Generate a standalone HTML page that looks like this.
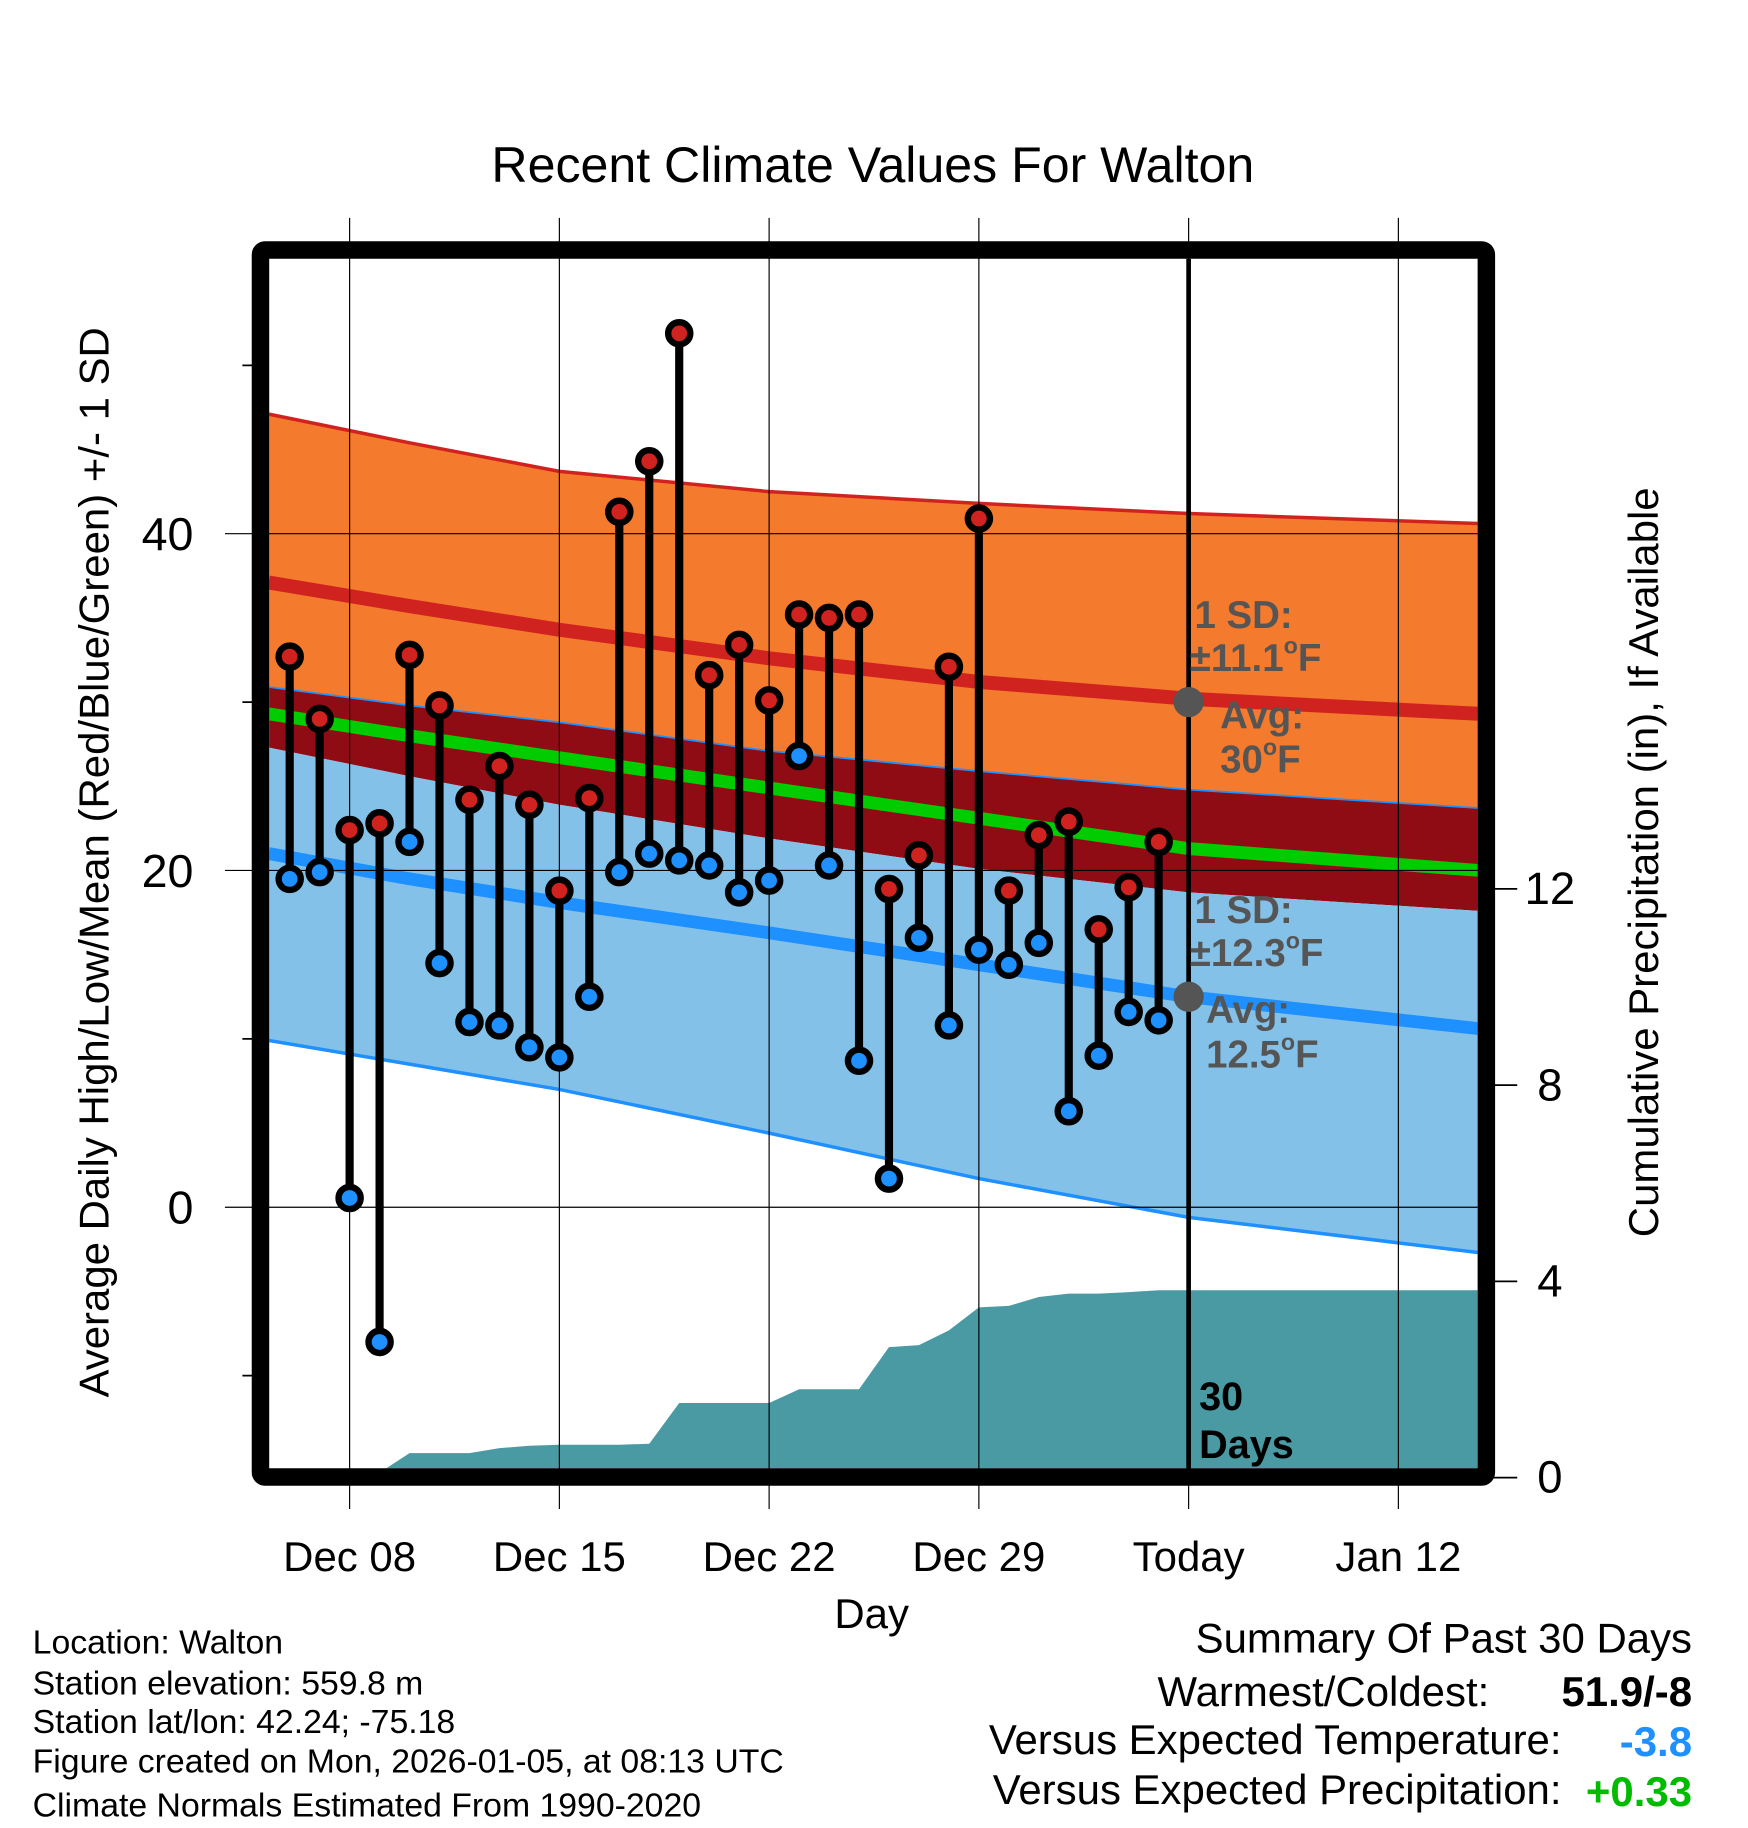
<!DOCTYPE html>
<html><head><meta charset="utf-8"><style>
html,body{margin:0;padding:0;background:#fff}
svg{display:block;font-family:"Liberation Sans",Arial,sans-serif}
</style></head><body>
<svg id="chart" width="1748" height="1828" viewBox="0 0 1500 1568.7" xmlns="http://www.w3.org/2000/svg">
<defs><clipPath id="plotclip"><rect x="231" y="222" width="1037" height="1038"/></clipPath></defs>
<rect width="1500" height="1569" fill="#fff"/>
<text x="749" y="156" font-size="43" text-anchor="middle">Recent Climate Values For Walton</text>
<g id="bands" clip-path="url(#plotclip)"></g>
<g id="grid"></g>
<g id="marks"></g>
<g id="frame"></g>
<g id="labels"></g>
</svg>
<script>
// ---- data ----
const dayNums = [6,7,8,9,10,11,12,13,14,15,16,17,18,19,20,21,22,23,24,25,26,27,28,29,30,31,32,33,34,35];
const highs = [32.7,29.0,22.4,22.8,32.8,29.8,24.2,26.2,23.9,18.8,24.3,41.3,44.3,51.9,31.6,33.4,30.1,35.2,35.0,35.2,18.9,20.9,32.1,40.9,18.8,22.1,22.9,16.5,19.0,21.7];
const lows = [19.5,19.9,0.55,-8.0,21.7,14.5,11.0,10.8,9.5,8.9,12.5,19.9,21.0,20.6,20.3,18.7,19.4,26.8,20.3,8.7,1.7,16.0,10.8,15.3,14.4,15.7,5.7,9.0,11.6,11.1];
const precip = [0,0,0.1,0.5,0.5,0.5,0.6,0.65,0.67,0.67,0.67,0.69,1.52,1.52,1.52,1.52,1.8,1.8,1.8,2.66,2.7,3.0,3.47,3.5,3.68,3.75,3.75,3.78,3.82];
const precipDays = [7,8,9,10,11,12,13,14,15,16,17,18,19,20,21,22,23,24,25,26,27,28,29,30,31,32,33,34,35];
const normDays = [5.3,10,15,22,29,36,45.7];
const hiPlus = [47.1,45.4,43.7,42.5,41.8,41.2,40.6];
const hiMean = [37.1,35.7,34.3,32.6,31.2,30.2,29.3];
const hiMinus = [30.9,29.8,28.8,27.1,25.9,24.8,23.7];
const meanT = [29.3,28.0,26.7,24.9,23.1,21.3,20.0];
const loPlus = [27.3,25.6,23.9,21.9,20.1,18.7,17.6];
const loMean = [21.0,19.5,18.1,16.3,14.4,12.5,10.6];
const loMinus = [9.9,8.5,7.0,4.4,1.7,-0.6,-2.7];
const xTickDays = [8,15,22,29,36,43];
const xTickLabels = ["Dec 08","Dec 15","Dec 22","Dec 29","Today","Jan 12"];
const yTicks = [40,20,0];
const yMinor = [50,30,10,-10];
const pTicks = [0,4,8,12];
// ---- axes ----
const X = d => 300 + (d-8)*25.714;
const Y = v => 1036 - v*14.45;
const P = v => 1268 - v*42.1;
const NS='http://www.w3.org/2000/svg';
function mk(tag, parent, attrs){const e=document.createElementNS(NS,tag);for(const k in attrs)e.setAttribute(k,attrs[k]);parent.appendChild(e);return e;}
const bands=document.getElementById('bands'),grid=document.getElementById('grid'),marks=document.getElementById('marks'),frame=document.getElementById('frame'),labels=document.getElementById('labels');
function pts(arr){return normDays.map((d,i)=>X(d).toFixed(1)+','+Y(arr[i]).toFixed(1));}
function band(top,bot,fill,name){const p=pts(top).concat(pts(bot).reverse()).join(' ');const e=mk('polygon',bands,{points:p,fill:fill});

}
function line(arr,color,w,name){const e=mk('polyline',bands,{points:pts(arr).join(' '),fill:'none',stroke:color,'stroke-width':w});

}
band(hiPlus,hiMinus,'#f47a2e','high-sd-band');
band(hiMinus,loPlus,'#900c14','overlap-band');
band(loPlus,loMinus,'#84c1e8','low-sd-band');
{let p=[X(precipDays[0])+','+P(0)];precipDays.forEach((d,i)=>p.push(X(d)+','+P(precip[i])));p.push('1268,'+P(precip[precip.length-1]));p.push('1268,1268');
const e=mk('polygon',bands,{points:p.join(' '),fill:'#4a9aa4'});

}
line(hiPlus,'#d0231f',3,'high-plus-sd-line');
line(hiMean,'#d0231f',12,'mean-high-line');
line(hiMinus,'#1e90ff',1.5,'high-minus-sd-line');
line(meanT,'#00cc00',11,'mean-temp-line');
line(loMean,'#1e90ff',11,'mean-low-line');
line(loMinus,'#1e90ff',3,'low-minus-sd-line');
xTickDays.forEach((d,i)=>{const e=mk('line',grid,{x1:X(d),x2:X(d),y1:187,y2:1295,stroke:'#000','stroke-width':1});


const t=mk('text',labels,{x:X(d),y:1348,'font-size':36,'text-anchor':'middle'});t.textContent=xTickLabels[i];

});
yTicks.forEach(v=>{const e=mk('line',grid,{x1:193,x2:1268,y1:Y(v),y2:Y(v),stroke:'#000','stroke-width':1});


const t=mk('text',labels,{x:166,y:Y(v)+14,'font-size':40,'text-anchor':'end'});t.textContent=v;

});
yMinor.forEach(v=>{const e=mk('line',grid,{x1:208,x2:224,y1:Y(v),y2:Y(v),stroke:'#000','stroke-width':1.5});

});
pTicks.forEach(v=>{const e=mk('line',grid,{x1:1276,x2:1302,y1:P(v),y2:P(v),stroke:'#000','stroke-width':1.5});


const t=mk('text',labels,{x:1330,y:P(v)+13,'font-size':39,'text-anchor':'middle'});t.textContent=v;

});
{const e=mk('line',marks,{x1:X(36),x2:X(36),y1:222,y2:1262,stroke:'#000','stroke-width':4});

}
[[30,'avg-high-dot'],[12.5,'avg-low-dot']].forEach(a=>{const c=mk('circle',marks,{cx:X(36),cy:Y(a[0]),r:13,fill:'#555'});

});
dayNums.forEach((d,i)=>{const x=X(d);
const s=mk('line',marks,{x1:x,x2:x,y1:Y(highs[i]),y2:Y(lows[i]),stroke:'#000','stroke-width':7});


[[highs[i],'#d0231f','high-dot'],[lows[i],'#1e90ff','low-dot']].forEach(a=>{
const c=mk('circle',marks,{cx:x,cy:Y(a[0]),r:9.5,fill:a[1],stroke:'#000','stroke-width':5.5});

});});
{const e=mk('rect',frame,{x:223.5,y:214.5,width:1052,height:1053,fill:'none',stroke:'#000','stroke-width':15,rx:4});

}
</script>
<svg style="position:absolute;left:0;top:0" width="1748" height="1828" viewBox="0 0 1500 1568.7" xmlns="http://www.w3.org/2000/svg" font-family="Liberation Sans, Arial, sans-serif">
<text transform="translate(93,740) rotate(-90)" font-size="36" text-anchor="middle">Average Daily High/Low/Mean (Red/Blue/Green) +/- 1 SD</text>
<text transform="translate(1423,740) rotate(-90)" font-size="36" text-anchor="middle">Cumulative Precipitation (in), If Available</text>
<text x="748" y="1397" font-size="36" text-anchor="middle">Day</text>
<g fill="#555" font-weight="bold" font-size="33">
<text x="1025" y="539">1 SD:</text>
<text x="1021" y="576">±11.1<tspan font-size="20" dy="-15">o</tspan><tspan dy="15">F</tspan></text>
<text x="1047" y="625">Avg:</text>
<text x="1047" y="663">30<tspan font-size="20" dy="-15">o</tspan><tspan dy="15">F</tspan></text>
</g>
<g fill="#555" font-weight="bold" font-size="33">
<text x="1025" y="792">1 SD:</text>
<text x="1021" y="829">±12.3<tspan font-size="20" dy="-15">o</tspan><tspan dy="15">F</tspan></text>
<text x="1035" y="878">Avg:</text>
<text x="1035" y="916">12.5<tspan font-size="20" dy="-15">o</tspan><tspan dy="15">F</tspan></text>
</g>
<g font-weight="bold" font-size="34">
<text x="1029" y="1210">30</text><text x="1029" y="1251">Days</text>
</g>
<g font-size="29">
<text x="28" y="1419">Location: Walton</text>
<text x="28" y="1454">Station elevation: 559.8 m</text>
<text x="28" y="1487">Station lat/lon: 42.24; -75.18</text>
<text x="28" y="1521">Figure created on Mon, 2026-01-05, at 08:13 UTC</text>
<text x="28" y="1559">Climate Normals Estimated From 1990-2020</text>
</g>
<g font-size="36">
<text x="1452" y="1418" text-anchor="end">Summary Of Past 30 Days</text>
<text x="1278" y="1464" text-anchor="end">Warmest/Coldest:</text>
<text x="1452" y="1464" text-anchor="end" font-weight="bold">51.9/-8</text>
<text x="1340" y="1505" text-anchor="end">Versus Expected Temperature:</text>
<text x="1452" y="1507" text-anchor="end" font-weight="bold" fill="#1e90ff">-3.8</text>
<text x="1340" y="1548" text-anchor="end">Versus Expected Precipitation:</text>
<text x="1452" y="1550" text-anchor="end" font-weight="bold" fill="#00bb00">+0.33</text>
</g>
</svg>
</body></html>
